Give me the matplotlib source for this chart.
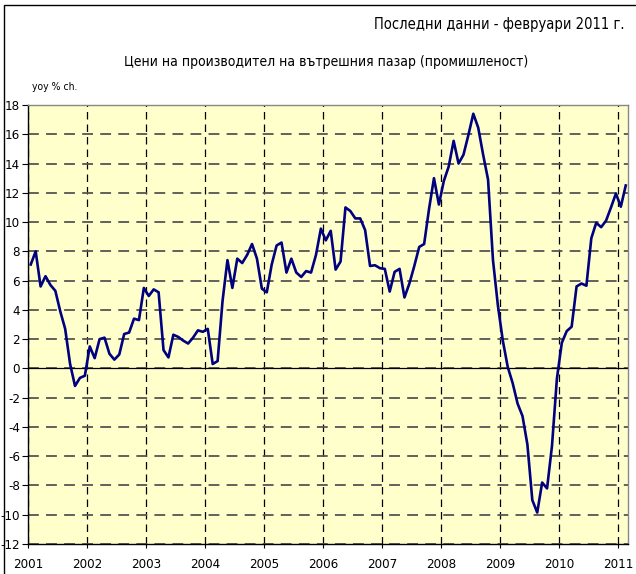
import matplotlib
matplotlib.use("Agg")
import matplotlib.pyplot as plt
from matplotlib import font_manager
from matplotlib.patches import Rectangle

# monthly yoy % change, Jan 2001 - Feb 2011
values = [
    7.1, 8.0, 5.6, 6.3, 5.7, 5.3, 3.9, 2.7, 0.3, -1.2, -0.65, -0.5,
    1.5, 0.7, 2.0, 2.1, 1.0, 0.6, 0.95, 2.35, 2.45, 3.4, 3.3, 5.5,
    4.95, 5.4, 5.2, 1.25, 0.75, 2.3, 2.15, 1.9, 1.7, 2.1, 2.6, 2.5,
    2.7, 0.3, 0.5, 4.6, 7.4, 5.5, 7.5, 7.2, 7.75, 8.5, 7.5, 5.45,
    5.2, 7.1, 8.4, 8.6, 6.55, 7.5, 6.55, 6.25, 6.65, 6.55, 7.75, 9.55,
    8.75, 9.4, 6.75, 7.3, 11.0, 10.75, 10.25, 10.25, 9.45, 7.0, 7.05, 6.85,
    6.8, 5.25, 6.6, 6.8, 4.85, 5.8, 7.0, 8.3, 8.5, 10.9, 13.0, 11.2,
    12.8, 13.8, 15.55, 14.0, 14.6, 15.95, 17.4, 16.45, 14.6, 12.9, 7.4, 4.3,
    1.9, 0.1, -1.0, -2.4, -3.25, -5.2, -9.0, -9.85, -7.8, -8.2, -5.3, -0.7,
    1.75, 2.55, 2.85, 5.6, 5.8, 5.65, 8.9, 9.95, 9.65, 10.1, 11.0, 11.95,
    11.05, 12.5,
]
years = [str(y) for y in range(2001, 2012)]
y_ticks = list(range(-12, 19, 2))

title = "Цени на производител на вътрешния пазар (промишленост)"
note = "Последни данни - февруари 2011 г."
unit = "yoy % ch."

# pick a narrow face if one is installed
names = {f.name for f in font_manager.fontManager.ttflist}
condensed = {f.name for f in font_manager.fontManager.ttflist
             if f.stretch in ("condensed", "semi-condensed") or f.stretch in (300, 400)}
stretch = "normal"
scale = 1.0
if "Liberation Sans Narrow" in names:
    fam = ["Liberation Sans Narrow", "DejaVu Sans"]
elif "DejaVu Sans" in condensed:
    fam = ["DejaVu Sans"]
    stretch = "condensed"
else:
    fam = ["DejaVu Sans"]
    scale = 0.75
plt.rcParams["font.family"] = fam
plt.rcParams["font.stretch"] = stretch

fig = plt.figure(figsize=(6.36, 5.74), dpi=100)
ax = fig.add_axes([28.3 / 636, 1 - 544 / 574, 599.9 / 636, 439 / 574])
ax.set_facecolor("#FFFFCC")

x = [i + 0.5 for i in range(len(values))]
ax.plot(x, values, color="#000080", lw=1.9, zorder=3)
ax.axhline(0, color="black", lw=0.9, zorder=2)

ax.set_xlim(0, len(values))
ax.set_ylim(-12, 18)
ax.set_yticks(y_ticks)
ax.set_yticklabels([str(v) for v in y_ticks], fontsize=9.5 * scale)
ax.set_xticks([12 * k for k in range(len(years))])
ax.set_xticklabels(years, fontsize=9.5 * scale)
ax.tick_params(axis="y", direction="out", length=4, width=0.8, pad=2)
ax.tick_params(axis="x", direction="out", length=3, width=0.8, pad=7)

ax.yaxis.grid(True, color="#555555", linestyle=(0, (6, 4)), lw=1.3)
ax.xaxis.grid(True, color="black", linestyle=(0, (6, 4)), lw=0.9)
ax.set_axisbelow(True)

for side in ["top", "right"]:
    ax.spines[side].set_color("#888888")
    ax.spines[side].set_linewidth(1.0)
for side in ["left", "bottom"]:
    ax.spines[side].set_color("black")
    ax.spines[side].set_linewidth(1.0)

fig.text(624 / 636, 1 - 25 / 574, note, ha="right", va="center", fontsize=10.5 * scale)
fig.text(326 / 636, 1 - 62 / 574, title, ha="center", va="center", fontsize=10 * scale)
fig.text(32 / 636, 1 - 87 / 574, unit, ha="left", va="center", fontsize=7.5 * scale)

fig.patches.append(Rectangle((4 / 636, -0.1), 1.2, 1.1 - 4.5 / 574, transform=fig.transFigure,
                             fill=False, edgecolor="black", lw=1.0))

fig.savefig("out.png", dpi=100)
